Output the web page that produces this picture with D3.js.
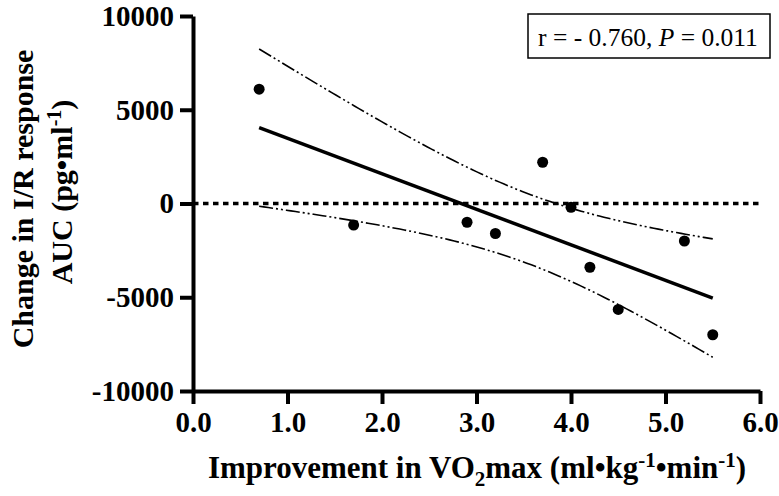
<!DOCTYPE html>
<html>
<head>
<meta charset="utf-8">
<script src="https://cdn.jsdelivr.net/npm/d3@7"></script>
<style>
  body { margin: 0; background: #fff; }
  svg { display: block; }
  .axis path, .axis line { stroke: #000; stroke-width: 4; }
  .axis text { font-family: "Liberation Serif", "Times New Roman", serif; font-weight: bold; font-size: 29px; fill: #000; }
  .title { font-family: "Liberation Serif", "Times New Roman", serif; font-weight: bold; font-size: 31px; fill: #000; }
  .ytitle { font-size: 30px; }
</style>
</head>
<body>
<div id="chart"></div>
<script>
// improvement in VO2max (x) vs change in I/R response AUC (y)
const vo2 = [0.7, 1.7, 2.9, 3.2, 3.7, 4.0, 4.2, 4.5, 5.2, 5.5];
const auc = [6100, -1150, -1000, -1600, 2200, -200, -3400, -5650, -2000, -7000];

const x_ticks = [0, 1, 2, 3, 4, 5, 6];
const y_ticks = [-10000, -5000, 0, 5000, 10000];
const stat_r = "- 0.760";
const stat_p = "0.011";

const svg_width = 779, svg_height = 496;
const margin = { left: 193, right: 19, top: 16, bottom: 105 };
const w = svg_width - margin.left - margin.right;
const h = svg_height - margin.top - margin.bottom;

const svg = d3.select("#chart").append("svg")
    .attr("width", svg_width)
    .attr("height", svg_height);

const chart = svg.append("g")
    .attr("transform", "translate(" + margin.left + "," + margin.top + ")");

const xScale = d3.scaleLinear().domain([0, 6]).range([0, w]);
const yScale = d3.scaleLinear().domain([-10000, 10000]).range([h, 0]);

// axes (plain hyphen for negatives, like the original)
chart.append("g")
    .attr("class", "axis")
    .call(d3.axisLeft(yScale).tickValues(y_ticks).tickSize(13).tickSizeOuter(0).tickPadding(6)
        .tickFormat(d => d < 0 ? "-" + Math.abs(d) : String(d)));

chart.append("g")
    .attr("class", "axis")
    .attr("transform", "translate(0," + h + ")")
    .call(d3.axisBottom(xScale).tickValues(x_ticks).tickSize(13).tickSizeOuter(0).tickPadding(7)
        .tickFormat(d3.format(".1f")));

// zero line
chart.append("line")
    .attr("x1", xScale(0)).attr("x2", xScale(6))
    .attr("y1", yScale(0)).attr("y2", yScale(0))
    .attr("stroke", "#000").attr("stroke-width", 3.5)
    .attr("stroke-dasharray", "5.5 4.5");

// linear regression with 95% confidence band
const n = vo2.length;
const mx = d3.mean(vo2), my = d3.mean(auc);
const sxx = d3.sum(vo2, d => (d - mx) * (d - mx));
const sxy = d3.sum(vo2.map((d, i) => (d - mx) * (auc[i] - my)));
const slope = sxy / sxx;
const icpt = my - slope * mx;
const ssRes = d3.sum(vo2.map((d, i) => Math.pow(auc[i] - (icpt + slope * d), 2)));
const s = Math.sqrt(ssRes / (n - 2));
const t = 2.306; // t(0.975, df = 8)

const xMin = d3.min(vo2), xMax = d3.max(vo2);
const band = d3.range(0, 101).map(i => {
    const xv = xMin + (xMax - xMin) * i / 100;
    const fit = icpt + slope * xv;
    const se = s * Math.sqrt(1 / n + (xv - mx) * (xv - mx) / sxx);
    return { x: xv, fit: fit, lo: fit - t * se, hi: fit + t * se };
});

const ciLine = key => d3.line().x(d => xScale(d.x)).y(d => yScale(d[key]));

["hi", "lo"].forEach(k => {
    chart.append("path")
        .datum(band)
        .attr("d", ciLine(k))
        .attr("fill", "none")
        .attr("stroke", "#000")
        .attr("stroke-width", 1.6)
        .attr("stroke-dasharray", "14 3 2 3 2 3");
});

chart.append("path")
    .datum([band[0], band[band.length - 1]])
    .attr("d", ciLine("fit"))
    .attr("fill", "none")
    .attr("stroke", "#000")
    .attr("stroke-width", 3.5);

// points
chart.selectAll(".dot")
    .data(vo2)
    .enter().append("circle")
    .attr("class", "dot")
    .attr("cx", d => xScale(d))
    .attr("cy", (d, i) => yScale(auc[i]))
    .attr("r", 5.5)
    .attr("fill", "#000");

// stats box
const box = svg.append("g");
box.append("rect")
    .attr("x", 528).attr("y", 14)
    .attr("width", 242).attr("height", 44)
    .attr("fill", "#fff").attr("stroke", "#000").attr("stroke-width", 1.5);
const st = box.append("text")
    .attr("x", 648).attr("y", 46)
    .attr("text-anchor", "middle")
    .style("font-family", '"Liberation Serif", "Times New Roman", serif')
    .style("font-size", "25.5px");
st.append("tspan").text("r = " + stat_r + ", ");
st.append("tspan").style("font-style", "italic").text("P");
st.append("tspan").text(" = " + stat_p);

// x title
const xt = svg.append("text")
    .attr("class", "title")
    .attr("x", 477)
    .attr("y", 478)
    .attr("text-anchor", "middle");
xt.append("tspan").text("Improvement in VO");
xt.append("tspan").attr("dy", 8).style("font-size", "21px").text("2");
xt.append("tspan").attr("dy", -8).text("max (ml•kg");
xt.append("tspan").attr("dy", -11).style("font-size", "21px").text("-1");
xt.append("tspan").attr("dy", 11).text("•min");
xt.append("tspan").attr("dy", -11).style("font-size", "21px").text("-1");
xt.append("tspan").attr("dy", 11).text(")");

// y title, two lines
svg.append("text")
    .attr("class", "title ytitle")
    .attr("transform", "translate(33,199) rotate(-90)")
    .attr("text-anchor", "middle")
    .text("Change in I/R response");
const yt2 = svg.append("text")
    .attr("class", "title ytitle")
    .attr("transform", "translate(72,192) rotate(-90)")
    .attr("text-anchor", "middle");
yt2.append("tspan").text("AUC (pg•ml");
yt2.append("tspan").attr("dy", -11).style("font-size", "20px").text("-1");
yt2.append("tspan").attr("dy", 11).text(")");
</script>
</body>
</html>
